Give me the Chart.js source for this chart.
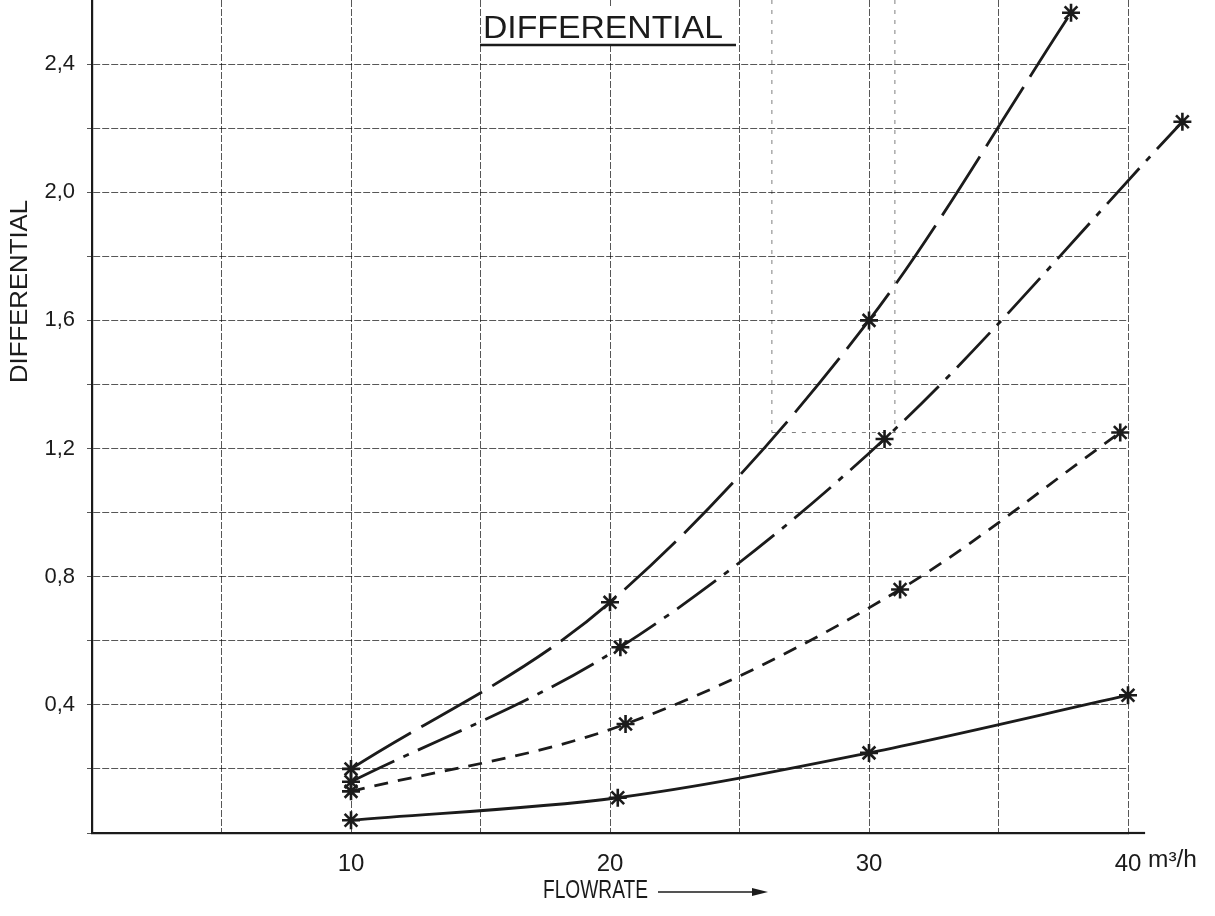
<!DOCTYPE html>
<html><head><meta charset="utf-8">
<script src="https://cdn.jsdelivr.net/npm/chart.js@4.4.1/dist/chart.umd.min.js"></script>
<style>html,body{margin:0;padding:0;background:#fff;overflow:hidden}canvas{display:block}</style>
</head><body>
<canvas id="c" width="1215" height="916"></canvas>
<script>
// ---- data ----
const flowA = [10, 20, 30, 37.8];
const diffA = [0.20, 0.72, 1.60, 2.56];
const flowB = [10, 20.4, 30.6, 42.1];
const diffB = [0.16, 0.58, 1.23, 2.22];
const flowC = [10, 20.6, 31.2, 39.7];
const diffC = [0.13, 0.34, 0.76, 1.25];
const flowD = [10, 20.3, 30, 40];
const diffD = [0.04, 0.11, 0.25, 0.43];
const xTickValues = [10, 20, 30, 40];
const xTickLabels = ['10', '20', '30', '40'];
const yTickValues = [0.4, 0.8, 1.2, 1.6, 2.0, 2.4];
const yTickLabels = ['0,4', '0,8', '1,2', '1,6', '2,0', '2,4'];
const guideFlow = [26.25, 31.0];
const guideDiff = [1.25];
const chartTitle = 'DIFFERENTIAL';
const xTitle = 'FLOWRATE';
const yTitle = 'DIFFERENTIAL';
const xUnit = 'm³/h';

const INK = '#1b1b1b';
const pts = (xs, ys) => xs.map((x, i) => ({x, y: ys[i]}));

function curve(xs, ys, dash) {
  return {
    data: pts(xs, ys), showLine: true, borderColor: INK, borderWidth: 2.8, borderDash: dash,
    pointStyle: 'star', pointRadius: 9, pointBorderWidth: 2.6, pointBorderColor: INK,
    pointBackgroundColor: INK, cubicInterpolationMode: 'monotone', clip: false, order: 1
  };
}
function guide(data) {
  return { data, showLine: true, borderColor: 'rgba(0,0,0,0.5)', borderWidth: 1,
    borderDash: [4, 6], pointRadius: 0, order: 10 };
}

const datasets = [
  guide([{x: guideFlow[0], y: 2.6}, {x: guideFlow[0], y: guideDiff[0]}]),
  guide([{x: guideFlow[1], y: 2.6}, {x: guideFlow[1], y: guideDiff[0]}]),
  guide([{x: guideFlow[0], y: guideDiff[0]}, {x: 40, y: guideDiff[0]}]),
  curve(flowA, diffA, [70, 12]),
  curve(flowB, diffB, [48, 10, 6, 10]),
  curve(flowC, diffC, [14, 10]),
  curve(flowD, diffD, [])
];

function fitText(ctx, text, x, y, width, font) {
  ctx.save();
  ctx.font = font;
  const w = ctx.measureText(text).width;
  ctx.translate(x, y);
  ctx.scale(width / w, 1);
  ctx.fillText(text, 0, 0);
  ctx.restore();
}

function drawStar(ctx, o, x, y) {
  if (Chart.helpers && Chart.helpers.drawPoint) { Chart.helpers.drawPoint(ctx, o, x, y); return; }
  const r = o.radius;
  ctx.beginPath();
  for (let k = 0; k < 4; k++) {
    const a = k * Math.PI / 4;
    ctx.moveTo(x + Math.cos(a) * r, y + Math.sin(a) * r);
    ctx.lineTo(x - Math.cos(a) * r, y - Math.sin(a) * r);
  }
  ctx.stroke();
}

const decor = {
  id: 'decor',
  afterDatasetsDraw(chart) {
    // markers of points lying beyond the plotting frame (the library skips them)
    const ctx = chart.ctx, a = chart.chartArea;
    chart.data.datasets.forEach((ds, di) => {
      if (ds.pointStyle !== 'star') return;
      chart.getDatasetMeta(di).data.forEach(pt => {
        const o = pt.options;
        const m = Math.max(o.radius, o.hoverRadius || 0) + o.borderWidth;
        if (pt.x > a.right + m || pt.x < a.left - m || pt.y < a.top - m || pt.y > a.bottom + m) {
          ctx.save();
          ctx.strokeStyle = o.borderColor; ctx.fillStyle = o.backgroundColor; ctx.lineWidth = o.borderWidth;
          drawStar(ctx, o, pt.x, pt.y);
          ctx.restore();
        }
      });
    });
  },
  afterDraw(chart) {
    const ctx = chart.ctx;
    const xs = chart.scales.x, ys = chart.scales.y;
    ctx.save();
    ctx.fillStyle = INK; ctx.strokeStyle = INK;
    ctx.textAlign = 'left'; ctx.textBaseline = 'alphabetic';
    // x axis line extension
    ctx.lineWidth = 2.2;
    ctx.beginPath();
    ctx.moveTo(xs.getPixelForValue(40), ys.bottom);
    ctx.lineTo(xs.getPixelForValue(40.66), ys.bottom);
    ctx.stroke();
    // chart title box
    ctx.fillStyle = '#fff';
    ctx.fillRect(482, 6, 253, 38);
    ctx.fillStyle = INK;
    fitText(ctx, chartTitle, 483, 38, 240, '31px "Liberation Sans"');
    ctx.lineWidth = 2.5;
    ctx.beginPath(); ctx.moveTo(480, 45); ctx.lineTo(736, 45); ctx.stroke();
    // y title
    ctx.save();
    ctx.translate(27, 383);
    ctx.rotate(-Math.PI / 2);
    fitText(ctx, yTitle, 0, 0, 183, '23px "Liberation Sans"');
    ctx.restore();
    // x title + arrow
    fitText(ctx, xTitle, 543, 898, 105, '25px "Liberation Sans"');
    ctx.lineWidth = 1.5;
    ctx.beginPath(); ctx.moveTo(658, 892); ctx.lineTo(758, 892); ctx.stroke();
    ctx.beginPath(); ctx.moveTo(768, 892); ctx.lineTo(752, 888); ctx.lineTo(752, 896); ctx.closePath(); ctx.fill();
    // unit
    fitText(ctx, xUnit, 1148, 867, 49, '23px "Liberation Sans"');
    ctx.restore();
  }
};

new Chart(document.getElementById('c'), {
  type: 'scatter',
  data: { datasets },
  plugins: [decor],
  options: {
    responsive: false, animation: false,
    layout: { autoPadding: false, padding: { left: 0, right: 87, top: 0, bottom: 0 } },
    plugins: { legend: { display: false }, tooltip: { enabled: false }, title: { display: false } },
    scales: {
      x: {
        type: 'linear', min: 0, max: 40,
        ticks: {
          stepSize: 5, autoSkip: false, maxRotation: 0, padding: 17, color: INK,
          font: { family: 'Liberation Sans', size: 24 },
          callback: (v) => { const i = xTickValues.indexOf(v); return i >= 0 ? xTickLabels[i] : ''; }
        },
        grid: { color: 'rgba(0,0,0,0.66)', lineWidth: 1, drawTicks: false },
        border: { display: true, color: INK, width: 2.2, dash: [7, 2] },
        afterFit: (s) => { s.height = 83; s.paddingLeft = 0; s.paddingRight = 0; }
      },
      y: {
        type: 'linear', min: 0, max: 2.6,
        afterBuildTicks: (s) => { s.ticks = s.ticks.filter(t => t.value <= 2.45); },
        ticks: {
          stepSize: 0.2, autoSkip: false, padding: 12, color: INK,
          font: { family: 'Liberation Sans', size: 22 },
          callback: (v) => { const i = yTickValues.findIndex(t => Math.abs(t - v) < 1e-6); return i >= 0 ? yTickLabels[i] : ''; }
        },
        grid: { color: 'rgba(0,0,0,0.66)', lineWidth: 1, tickLength: 5 },
        border: { display: true, color: INK, width: 2.2, dash: [7, 2] },
        afterFit: (s) => { s.width = 92; s.paddingTop = 0; s.paddingBottom = 0; }
      }
    }
  }
});
</script>
</body></html>
